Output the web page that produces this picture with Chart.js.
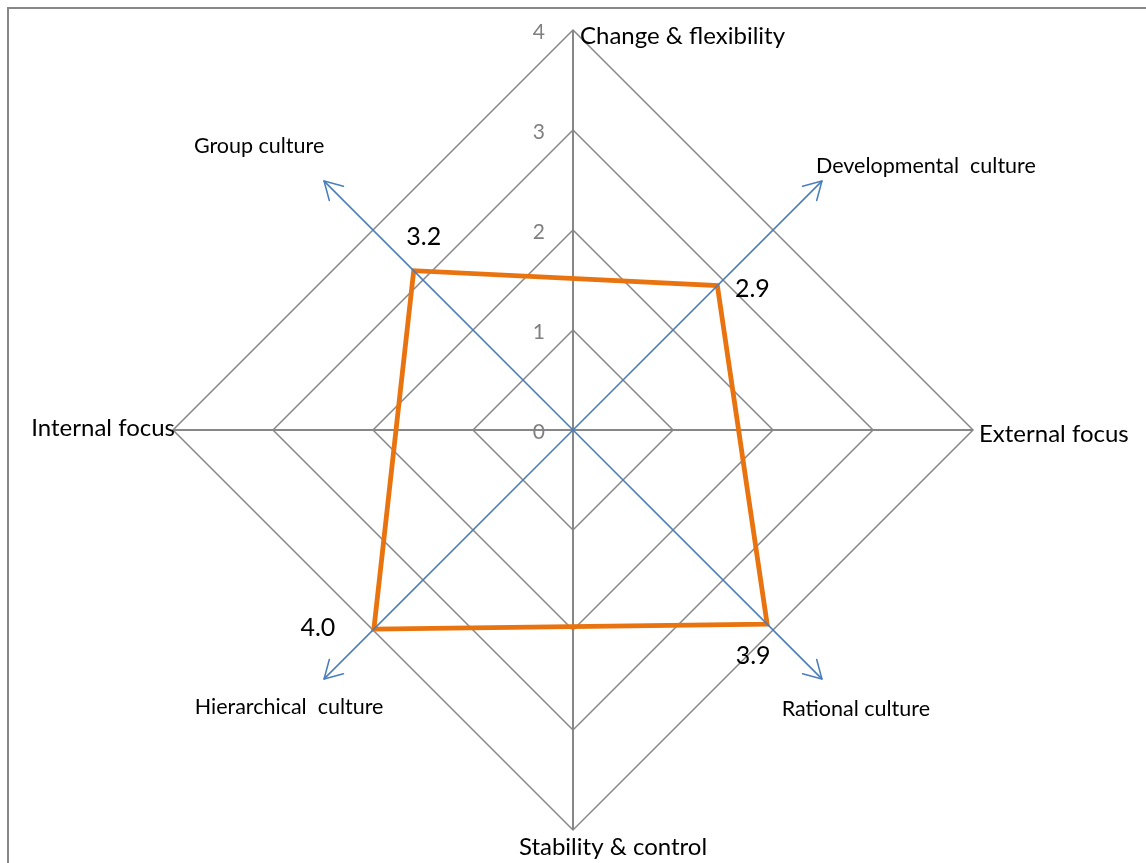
<!DOCTYPE html>
<html>
<head>
<meta charset="utf-8">
<title>Organisational culture profile</title>
<script src="https://cdn.jsdelivr.net/npm/chart.js@4/dist/chart.umd.min.js"></script>
<style>
  html, body { margin: 0; padding: 0; background: #ffffff; }
  #wrap { position: relative; width: 1146px; height: 863px; overflow: hidden; }
  #frame { position: absolute; left: 7px; top: 7px; right: -10px; bottom: -10px;
           border-left: 2px solid #878787; border-top: 2px solid #878787; }
  canvas { position: absolute; left: 0; top: 0; }
</style>
</head>
<body>
<div id="wrap">
  <div id="frame"></div>
  <canvas id="focusChart" width="1146" height="863"></canvas>
  <canvas id="cultureChart" width="1146" height="863"></canvas>
</div>
<script>
// Orientation axes: vertical (flexibility vs. control) and horizontal (internal vs. external)
const focusLabels = ['Change & flexibility', 'External focus', 'Stability & control', 'Internal focus'];
const scaleTicks = [0, 1, 2, 3, 4];
const scaleTickLabels = ['0', '1', '2', '3', '4'];

// Culture types on the diagonals, clockwise from the upper right
const cultureLabels = ['Developmental  culture', 'Rational culture', 'Hierarchical  culture', 'Group culture'];
const cultureScores = [2.9, 3.9, 4.0, 3.2];
const cultureAxisMax = 5;

const FONT = "Lato, 'Open Sans', 'DejaVu Sans', sans-serif";
const GREY = '#878787';
const BLUE = '#4A7EBB';
const ORANGE = '#E8730F';

// Tick numbers and axis names for the diamond grid
const focusTextPlugin = {
  id: 'focusText',
  afterDraw(chart, args, opts) {
    const s = chart.scales.r;
    const ctx = chart.ctx;
    ctx.save();
    ctx.textBaseline = 'middle';
    ctx.font = `${opts.tickSize}px ${FONT}`;
    ctx.fillStyle = '#808080';
    ctx.textAlign = 'right';
    scaleTicks.forEach((v, k) => {
      const p = s.getPointPositionForValue(0, v);
      ctx.fillText(scaleTickLabels[k], p.x + opts.tickDx, p.y + opts.tickDy);
    });
    ctx.font = `${opts.labelSize}px ${FONT}`;
    ctx.fillStyle = '#000000';
    focusLabels.forEach((txt, i) => {
      const p = s.getPointPosition(i, s.drawingArea);
      const pl = opts.placement[i];
      ctx.textAlign = pl.align;
      ctx.fillText(txt, p.x + pl.dx, p.y + pl.dy);
    });
    ctx.restore();
  }
};

// Arrowheads, culture names and score labels for the diagonal axes
const cultureTextPlugin = {
  id: 'cultureText',
  afterDraw(chart, args, opts) {
    const s = chart.scales.r;
    const ctx = chart.ctx;
    ctx.save();
    ctx.strokeStyle = BLUE;
    ctx.lineWidth = 1.6;
    ctx.lineCap = 'round';
    cultureLabels.forEach((_, i) => {
      const tip = s.getPointPosition(i, s.drawingArea);
      const a = Math.atan2(tip.y - s.yCenter, tip.x - s.xCenter);
      [-1, 1].forEach(sgn => {
        const b = a + Math.PI + sgn * opts.headAngle;
        ctx.beginPath();
        ctx.moveTo(tip.x, tip.y);
        ctx.lineTo(tip.x + Math.cos(b) * opts.headLength, tip.y + Math.sin(b) * opts.headLength);
        ctx.stroke();
      });
    });

    ctx.textBaseline = 'middle';
    ctx.textAlign = 'center';
    ctx.fillStyle = '#000000';
    ctx.font = `${opts.nameSize}px ${FONT}`;
    cultureLabels.forEach((txt, i) => {
      const tip = s.getPointPosition(i, s.drawingArea);
      const o = opts.namePlacement[i];
      ctx.fillText(txt, tip.x + o.dx, tip.y + o.dy);
    });

    ctx.font = `${opts.scoreSize}px ${FONT}`;
    const meta = chart.getDatasetMeta(0);
    meta.data.forEach((pt, i) => {
      const o = opts.scorePlacement[i];
      ctx.fillText(cultureScores[i].toFixed(1), pt.x + o.dx, pt.y + o.dy);
    });
    ctx.restore();
  }
};

const common = {
  responsive: false,
  animation: false,
  events: []
};

new Chart(document.getElementById('focusChart'), {
  type: 'radar',
  data: { labels: focusLabels, datasets: [] },
  options: {
    ...common,
    layout: { padding: { left: 173, right: 173, top: 30, bottom: 33 } },
    scales: {
      r: {
        min: scaleTicks[0],
        max: scaleTicks[scaleTicks.length - 1],
        startAngle: 0,
        afterBuildTicks: sc => { sc.ticks = scaleTicks.map(v => ({ value: v })); },
        grid: { color: GREY, lineWidth: 1.5 },
        angleLines: { color: GREY, lineWidth: 2 },
        ticks: { display: false },
        pointLabels: { display: false }
      }
    },
    plugins: {
      legend: { display: false },
      tooltip: { enabled: false },
      focusText: {
        tickSize: 21, tickDx: -28, tickDy: 2,
        labelSize: 24,
        placement: [
          { align: 'left', dx: 7, dy: 6 },
          { align: 'left', dx: 6, dy: 4 },
          { align: 'center', dx: 40, dy: 17 },
          { align: 'right', dx: 2, dy: -2 }
        ]
      }
    }
  },
  plugins: [focusTextPlugin]
});

new Chart(document.getElementById('cultureChart'), {
  type: 'radar',
  data: {
    labels: cultureLabels,
    datasets: [{
      data: cultureScores,
      borderColor: ORANGE,
      borderWidth: 4.8,
      borderJoinStyle: 'miter',
      fill: false,
      pointRadius: 0,
      tension: 0
    }]
  },
  options: {
    ...common,
    layout: { padding: { left: 221, right: 221, top: 78, bottom: 81 } },
    scales: {
      r: {
        min: 0,
        max: cultureAxisMax,
        startAngle: 45,
        grid: { display: false, z: 1 },
        angleLines: { color: BLUE, lineWidth: 1.6 },
        ticks: { display: false },
        pointLabels: { display: false }
      }
    },
    plugins: {
      legend: { display: false },
      tooltip: { enabled: false },
      cultureText: {
        headAngle: Math.PI / 6, headLength: 20,
        nameSize: 21.5,
        namePlacement: [
          { dx: 104, dy: -15 },
          { dx: 34, dy: 30 },
          { dx: -35, dy: 28 },
          { dx: -65, dy: -35 }
        ],
        scoreSize: 25,
        scorePlacement: [
          { dx: 35, dy: 3 },
          { dx: -14, dy: 32 },
          { dx: -56, dy: -1 },
          { dx: 10, dy: -34 }
        ]
      }
    }
  },
  plugins: [cultureTextPlugin]
});
</script>
</body>
</html>
